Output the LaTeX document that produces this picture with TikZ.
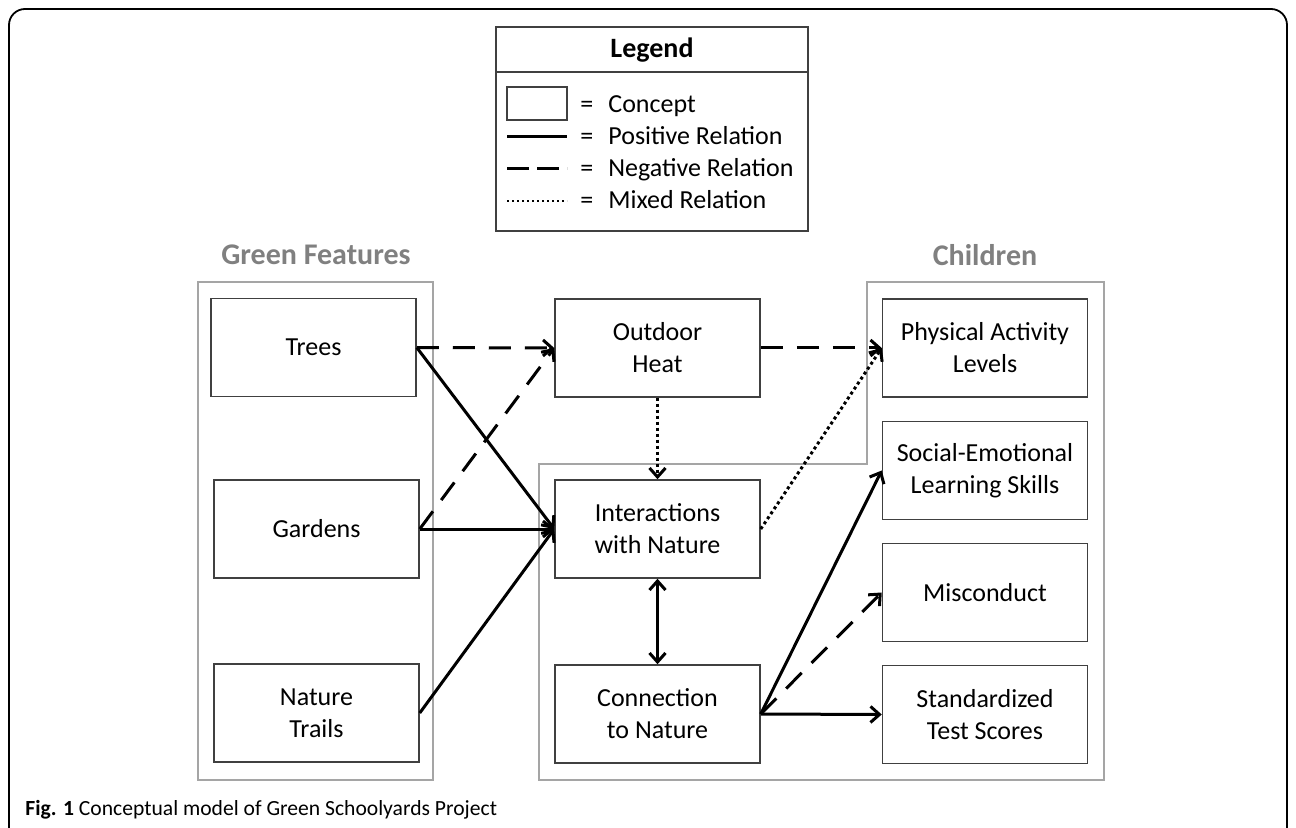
\documentclass[tikz,border=0pt]{standalone}
\usepackage{fontspec}
\setmainfont{Carlito}
\usepackage{tikz}
\usepackage{xcolor}
\usetikzlibrary{arrows.meta}
\definecolor{boxgray}{RGB}{64,64,64}
\definecolor{groupgray}{RGB}{165,165,165}
\definecolor{titlegray}{RGB}{128,128,128}
\tikzset{
    concept-box/.style = {draw=boxgray, line width=0.75pt, rectangle, minimum width=102.5pt, minimum height=49pt, inner sep=0pt, align=center, font=\fontsize{13}{16}\selectfont},
    group-box/.style = {draw=groupgray, line width=0.6pt},
    group-title/.style = {text=titlegray, font=\fontsize{15}{18}\selectfont\bfseries},
    legend-text/.style = {anchor=base west, inner sep=0pt, font=\fontsize{13}{16}\selectfont},
    pos-rel/.style = {line width=1.5pt, -{Straight Barb[length=4.5pt, width=8pt]}},
    neg-rel/.style = {pos-rel, dash pattern=on 11pt off 7pt},
    mix-rel/.style = {pos-rel, dash pattern=on 1.5pt off 1.5pt},
}

\begin{document}
\begin{tikzpicture}[x=0.5pt, y=-0.5pt]
\useasboundingbox (0,0) rectangle (1296,828);
\clip (0,0) rectangle (1296,828);
\draw[line width=0.9pt, rounded corners=8pt] (9,9) rectangle (1287,845);

% legend
\node[draw=boxgray, line width=0.75pt, minimum width=156pt, minimum height=102pt, inner sep=0pt] (legend) at (652,129) {};
\draw[draw=boxgray, line width=0.75pt] (legend.west |- 0,72) -- (legend.east |- 0,72);
\node[font=\fontsize{14}{16}\selectfont\bfseries] (legend-title) at (652,50) {Legend};
\node[draw=boxgray, line width=0.75pt, minimum width=30pt, minimum height=16.5pt, inner sep=0pt] (swatch) at (537,103.5) {};
\coordinate (pos-a) at (507,137); \coordinate (pos-b) at (567,137);
\coordinate (neg-a) at (507,169); \coordinate (neg-b) at (567,169);
\coordinate (mix-a) at (507,201); \coordinate (mix-b) at (567,201);
\draw[line width=1.5pt] (pos-a) -- (pos-b);
\draw[line width=1.5pt, dash pattern=on 11pt off 4pt] (neg-a) -- (neg-b);
\draw[line width=1.4pt, dash pattern=on 1.2pt off 1.3pt] (mix-a) -- (mix-b);
\foreach \y/\txt in {113/Concept, 145/Positive Relation, 177/Negative Relation, 209/Mixed Relation}{
    \node[legend-text] at (580,\y) {=};
    \node[legend-text] at (608,\y) {\txt};
}

% groups
\node[group-title] (green-title) at (316,255) {Green Features};
\node[group-title] (children-title) at (985,255) {Children};
\draw[group-box] (198,282) rectangle (433,780);
\draw[group-box] (867,282) -- (1104,282) -- (1104,780) -- (539,780) -- (539,464) -- (867,464) -- cycle;

% concepts
\node[concept-box] (trees) at (313.5,347.5) {Trees};
\node[concept-box] (gardens) at (316.5,529) {Gardens};
\node[concept-box] (trails) at (316.5,713) {Nature\\Trails};
\node[concept-box] (heat) at (657.5,348) {Outdoor\\Heat};
\node[concept-box] (interact) at (657.5,529) {Interactions\\with Nature};
\node[concept-box] (connect) at (657.5,714) {Connection\\to Nature};
\node[concept-box] (physical) at (985,348) {Physical Activity\\Levels};
\node[concept-box] (social) at (985,470.5) {Social-Emotional\\Learning Skills};
\node[concept-box] (misconduct) at (985,592.5) {Misconduct};
\node[concept-box] (tests) at (985,714.5) {Standardized\\Test Scores};

% relations
\draw[neg-rel] (trees.east) -- (heat.west);
\draw[pos-rel] (trees.east) -- (interact.west);
\draw[neg-rel] (gardens.east) -- (heat.west);
\draw[pos-rel] (gardens.east) -- (interact.west);
\draw[pos-rel] (trails.east) -- (interact.west);
\draw[mix-rel] (heat.south) -- (interact.north);
\draw[neg-rel] (heat.east) -- (physical.west);
\draw[mix-rel] (interact.east) -- (physical.west);
\draw[pos-rel, {Straight Barb[length=4.5pt, width=8pt]}-{Straight Barb[length=4.5pt, width=8pt]}] (interact.south) -- (connect.north);
\draw[pos-rel] (connect.east) -- (social.west);
\draw[neg-rel] (connect.east) -- (misconduct.west);
\draw[pos-rel] (connect.east) -- (tests.west);

% caption
\node[anchor=base west, inner sep=0pt, font=\fontsize{10.8}{13}\selectfont] (caption) at (25,815) {\textbf{Fig. 1} Conceptual model of Green Schoolyards Project};
\end{tikzpicture}
\end{document}
